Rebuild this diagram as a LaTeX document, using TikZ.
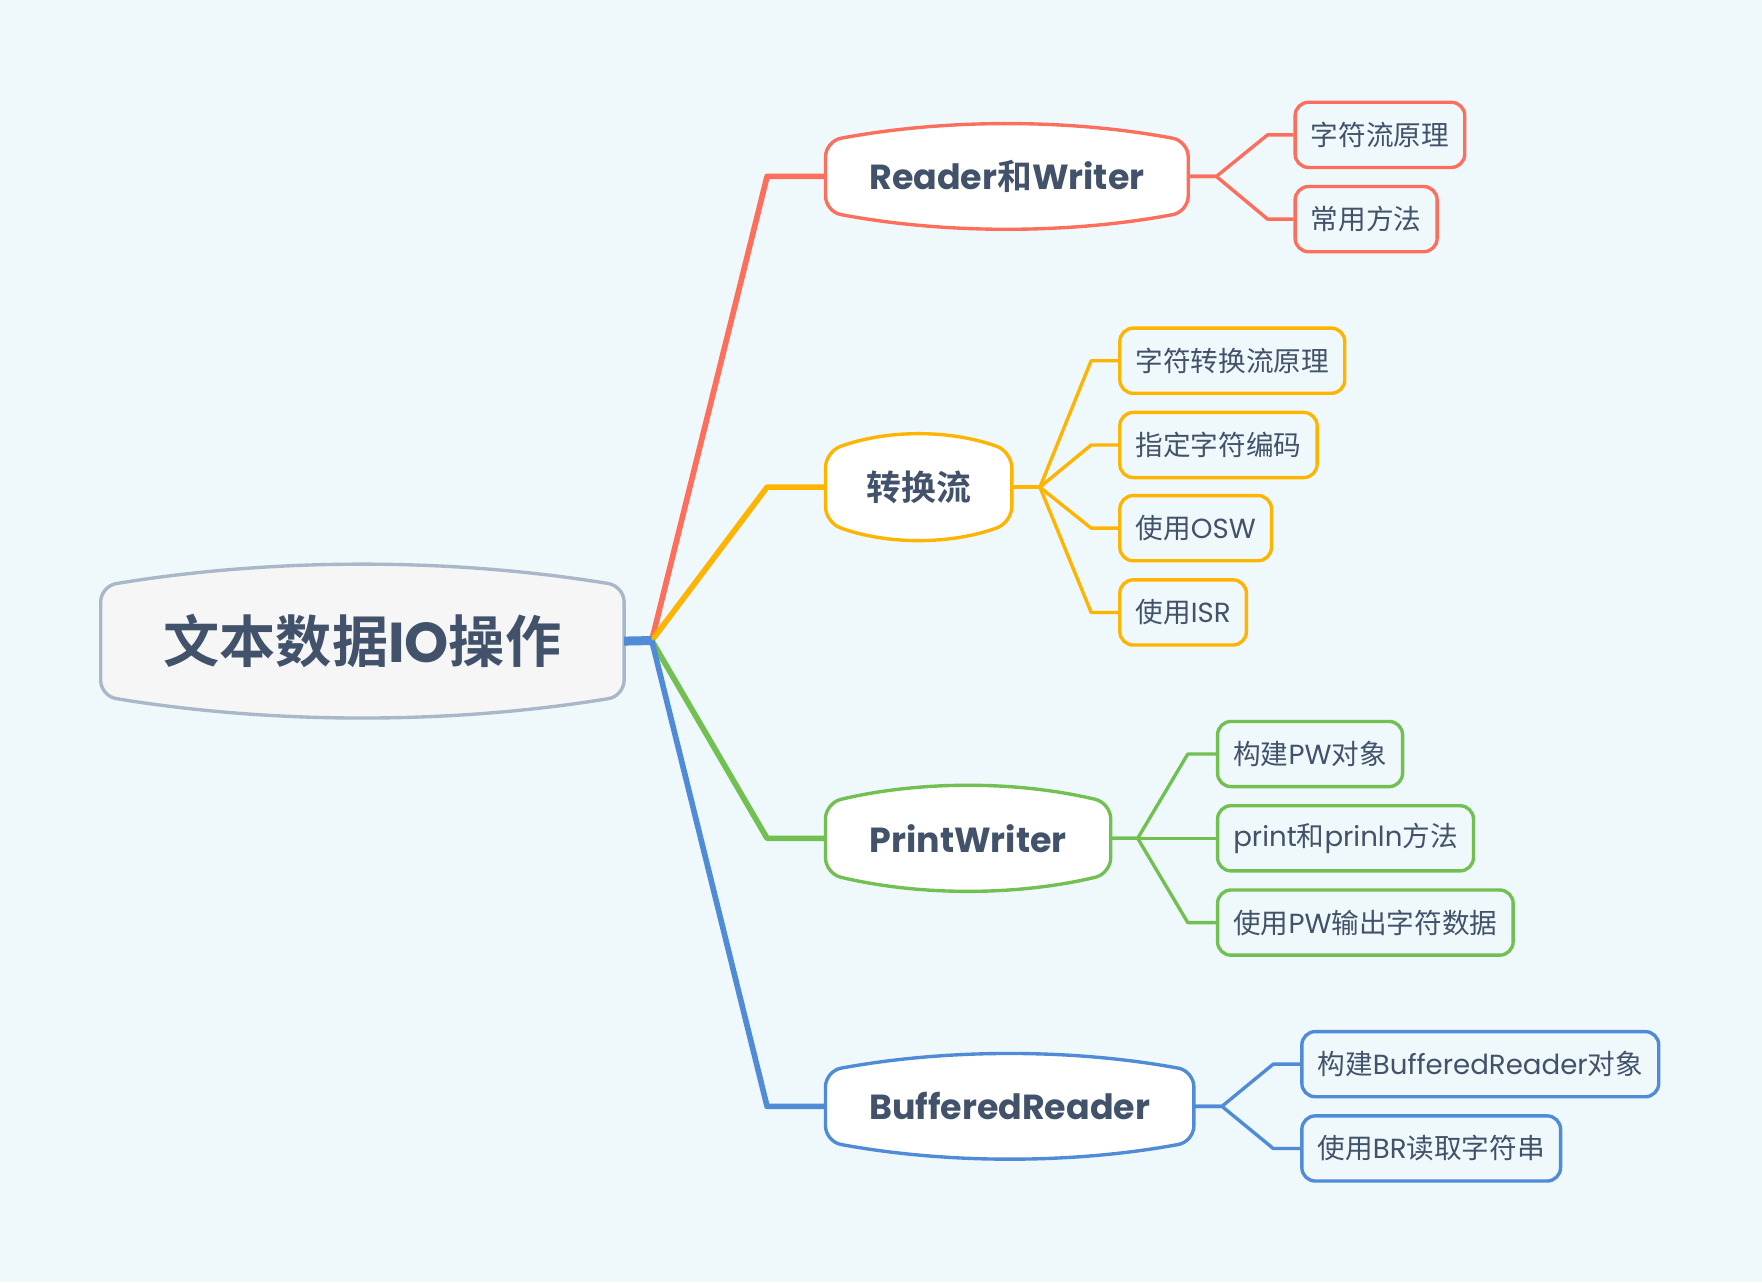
\documentclass[tikz,border=0pt]{standalone}
\usepackage{fontspec}
\setmainfont{Poppins}
\newfontfamily\cjk{Noto Sans CJK SC}[BoldFont={Noto Sans CJK SC Bold}]
\newcommand\zh[1]{{\cjk #1}}
\usetikzlibrary{positioning, calc, backgrounds}

\definecolor{bgblue}{RGB}{239,248,250}
\definecolor{textgray}{RGB}{66,82,107}
\definecolor{redline}{RGB}{253,110,92}
\definecolor{orangeline}{RGB}{255,180,0}
\definecolor{greenline}{RGB}{114,192,82}
\definecolor{blueline}{RGB}{79,139,214}
\definecolor{rootline}{RGB}{169,184,201}
\definecolor{rootfill}{RGB}{246,246,246}

% outline of a topic: straight sides, bulging top and bottom
\newcommand\topicshape[4]{%
  \draw[draw=#2, fill=#3, line width=1.5pt, rounded corners=7pt]
    ($(#1.north west)+(0pt,-#4)$)
    .. controls ($(#1.north west)!.33!(#1.north east)+(0pt,#4/3)$) and ($(#1.north west)!.67!(#1.north east)+(0pt,#4/3)$) .. ($(#1.north east)+(0pt,-#4)$)
    -- ($(#1.south east)+(0pt,#4)$)
    .. controls ($(#1.south west)!.67!(#1.south east)+(0pt,-#4/3)$) and ($(#1.south west)!.33!(#1.south east)+(0pt,-#4/3)$) .. ($(#1.south west)+(0pt,#4)$)
    -- cycle;}

\begin{document}
\begin{tikzpicture}[x=0.5pt, y=-0.5pt,
  topic/.style={minimum height=46pt, inner sep=0pt, font=\bfseries\fontsize{15.5}{18}\selectfont\color{textgray}},
  leaf/.style={draw=#1, line width=1.5pt, rounded corners=6pt, fill=bgblue, minimum height=29pt, inner xsep=7pt, anchor=west, font=\fontsize{12.3}{14}\selectfont\color{textgray}},
  branch/.style={draw=#1, line width=2.5pt, line join=round},
  twig/.style={draw=#1, line width=1.5pt, line join=round}]
\useasboundingbox (0,0) rectangle (1568,1141);
\begin{scope}[on background layer]
  \fill[bgblue] (0,0) rectangle (1568,1141);
\end{scope}

% root and topics
\node[topic, minimum width=232.5pt, minimum height=67.5pt, font=\bfseries\fontsize{25}{30}\selectfont\color{textgray}] (root) at (322.5,570.5) {\zh{文本数据}IO\zh{操作}};
\node[topic, minimum width=161pt] (rw) at (896,157) {Reader\zh{和}Writer};
\node[topic, minimum width=82.5pt] (conv) at (817.5,433.5) {\zh{转换流}};
\node[topic, minimum width=126.5pt] (pw) at (861.5,746) {PrintWriter};
\node[topic, minimum width=163.5pt] (br) at (898.5,984.5) {BufferedReader};

\begin{scope}[on background layer]
  \topicshape{root}{rootline}{rootfill}{9.5pt}
  \topicshape{rw}{redline}{white}{7.5pt}
  \topicshape{conv}{orangeline}{white}{7.5pt}
  \topicshape{pw}{greenline}{white}{7.5pt}
  \topicshape{br}{blueline}{white}{7.5pt}
\end{scope}

% leaves
\node[leaf=redline] (rw1) at (1151,120) {\zh{字符流原理}};
\node[leaf=redline] (rw2) at (1151,195) {\zh{常用方法}};
\node[leaf=orangeline] (conv1) at (995,321) {\zh{字符转换流原理}};
\node[leaf=orangeline] (conv2) at (995,396) {\zh{指定字符编码}};
\node[leaf=orangeline] (conv3) at (995,470) {\zh{使用}OSW};
\node[leaf=orangeline] (conv4) at (995,545) {\zh{使用}ISR};
\node[leaf=greenline] (pw1) at (1082,671) {\zh{构建}PW\zh{对象}};
\node[leaf=greenline] (pw2) at (1082,746) {print\zh{和}prinln\zh{方法}};
\node[leaf=greenline] (pw3) at (1082,821) {\zh{使用}PW\zh{输出字符数据}};
\node[leaf=blueline] (br1) at (1157,947) {\zh{构建}BufferedReader\zh{对象}};
\node[leaf=blueline] (br2) at (1157,1022) {\zh{使用}BR\zh{读取字符串}};

% branches from the root
\coordinate (hub) at (580,570);
\draw[branch=redline] (hub) -- ([xshift=-26pt]rw.west) -- (rw.west);
\draw[branch=orangeline] (hub) -- ([xshift=-26pt]conv.west) -- (conv.west);
\draw[branch=greenline] (hub) -- ([xshift=-26pt]pw.west) -- (pw.west);
\draw[branch=blueline] (hub) -- ([xshift=-26pt]br.west) -- (br.west);
\draw[blueline, line width=4pt] (root.east) -- (hub);

% twigs to the leaves
\foreach \l in {rw1,rw2}
  \draw[twig=redline] (rw.east) -- ++(12.5pt,0pt) -- ([xshift=-11.5pt]\l.west) -- (\l.west);
\foreach \l in {conv1,conv2,conv3,conv4}
  \draw[twig=orangeline] (conv.east) -- ++(12.5pt,0pt) -- ([xshift=-12pt]\l.west) -- (\l.west);
\foreach \l in {pw1,pw2,pw3}
  \draw[twig=greenline] (pw.east) -- ++(12pt,0pt) -- ([xshift=-12.5pt]\l.west) -- (\l.west);
\foreach \l in {br1,br2}
  \draw[twig=blueline] (br.east) -- ++(12.5pt,0pt) -- ([xshift=-12pt]\l.west) -- (\l.west);
\end{tikzpicture}
\end{document}
